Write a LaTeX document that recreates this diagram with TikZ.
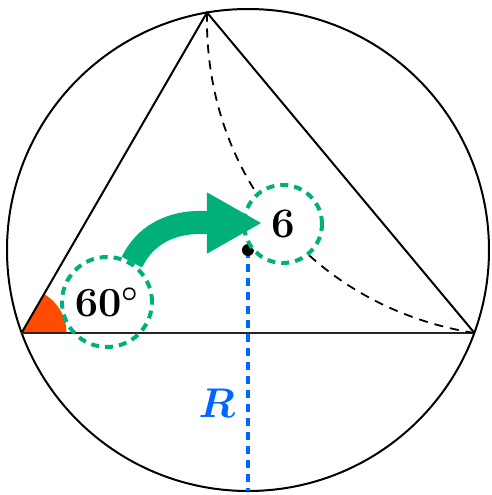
\documentclass[tikz,border=0pt]{standalone}
\usepackage{amsmath}
\usetikzlibrary{arrows.meta,positioning,calc}
\definecolor{mint}{RGB}{0,176,122}
\definecolor{flame}{RGB}{255,76,0}
\definecolor{azure}{RGB}{0,102,255}

\begin{document}
\begin{tikzpicture}[
  x=0.5pt, y=0.5pt,
  font=\fontsize{21}{25}\selectfont\bfseries\boldmath,
  ring/.style={circle, draw=mint, line width=2pt, dash pattern=on 4pt off 3pt,
               inner sep=0pt},
  edge/.style={line width=1pt, black},
  guide/.style={line width=0.9pt, black, dash pattern=on 4.5pt off 3.5pt},
  radius line/.style={line width=2pt, azure, dash pattern=on 4pt off 3pt},
  bigarrow/.style={mint, line width=11.5pt, -{Triangle[length=27.5pt,width=28.5pt]}}]

\useasboundingbox (-248,250) rectangle (244,-245);

% ---------- points ----------
\coordinate (O) at (0,0);
\coordinate (A) at (-226.5,-83);
\coordinate (B) at (226.5,-83);
\coordinate (C) at (-41,237.5);
\coordinate (foot) at (0,-241);

% ---------- angle at A ----------
\fill[flame] (A) -- ++(45,0) arc[start angle=0, end angle=60, radius=45] -- cycle;

% ---------- circumcircle and triangle ----------
\draw[edge] (O) circle[radius=241];
\draw[edge] (A) -- (C) -- (B);
\draw[edge, line width=1.3pt, black!85] (A) -- (B);
\draw[guide] (C) to[bend right=41] (B);

% ---------- radius ----------
\draw[radius line] (O) -- (foot);
\fill (O) circle[radius=6];
\node[text=azure, anchor=east] (rlabel) at (-6,-153) {$R$};

% ---------- labels ----------
\node[ring, minimum size=45pt] (deg) at (-141,-52) {$60^\circ$};
\node[ring, fill=white, minimum size=39pt] (six) at (35,26) {6};
\coordinate (tip) at (14,27);
\draw[bigarrow] (deg.58) to[out=64, in=180] (tip);
\end{tikzpicture}
\end{document}
